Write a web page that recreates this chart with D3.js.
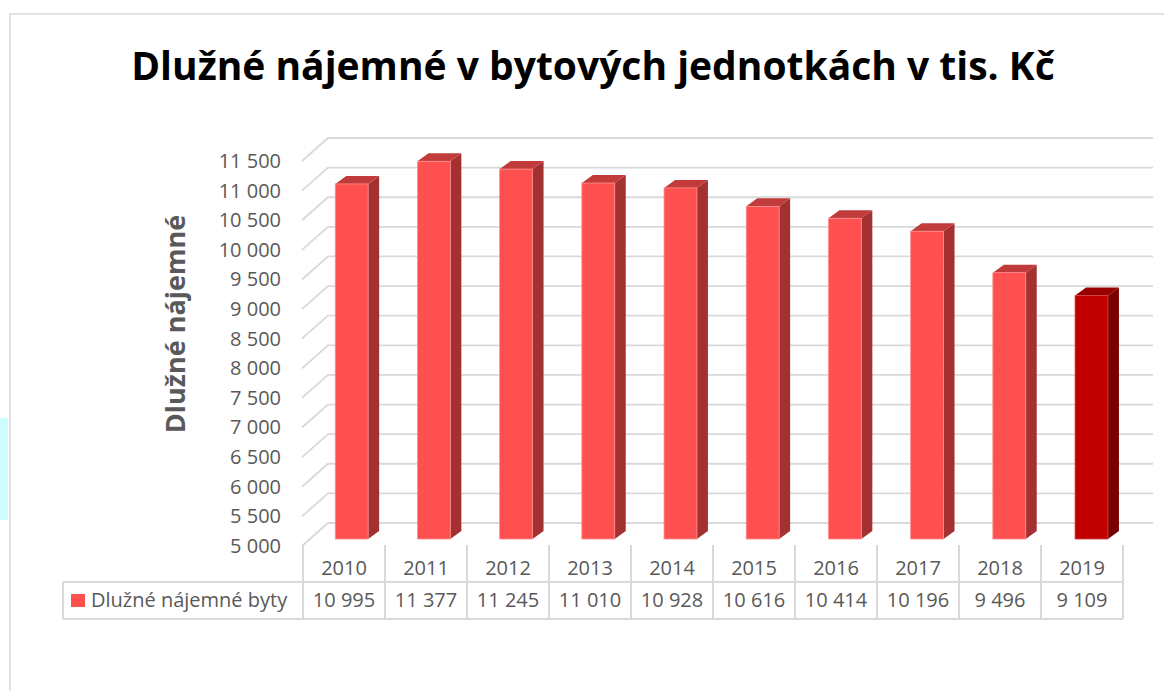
<!DOCTYPE html>
<html>
<head>
<meta charset="utf-8">
<script src="https://cdn.jsdelivr.net/npm/d3@7"></script>
<style>
  body { margin: 0; background: #fff; }
  text { font-family: "Open Sans", sans-serif; }
</style>
</head>
<body>
<div id="chart"></div>
<script>
// data
const years = ["2010", "2011", "2012", "2013", "2014", "2015", "2016", "2017", "2018", "2019"];
const debt = [10995, 11377, 11245, 11010, 10928, 10616, 10414, 10196, 9496, 9109];
const seriesName = "Dlužné nájemné byty";
const highlightYear = "2019";
const yTicks = [5000, 5500, 6000, 6500, 7000, 7500, 8000, 8500, 9000, 9500, 10000, 10500, 11000, 11500];
const chartTitle = "Dlužné nájemné v bytových jednotkách v tis. Kč";
const yTitle = "Dlužné nájemné";

const width = 1164, height = 691;
const gridColor = "#d9d9d9";
const textColor = "#595959";

// depth of the 3d walls and of the bars
const wall = {dx: 26, dy: -23};
const barDepth = {dx: 11, dy: -8};
const barShift = -7;   // bars sit a bit behind the front edge of the floor

const czech = d3.formatLocale({decimal: ",", thousands: "\u00a0", grouping: [3], currency: ["", " Kč"]});
const fmt = czech.format(",");

const data = years.map((y, i) => ({year: y, value: debt[i]}));

const svg = d3.select("#chart")
  .append("svg")
  .attr("width", width)
  .attr("height", height);

// little cyan strip on the left edge + chart frame
svg.append("rect")
  .attr("x", 0).attr("y", 418)
  .attr("width", 8).attr("height", 102)
  .attr("fill", "#ccfdfd");
svg.append("path")
  .attr("d", `M10,${height} V14 H${width}`)
  .attr("fill", "none")
  .attr("stroke", gridColor)
  .attr("stroke-width", 1.5);

// title
svg.append("text")
  .attr("x", 593)
  .attr("y", 80)
  .attr("text-anchor", "middle")
  .style("font-size", "39px")
  .style("font-weight", 700)
  .attr("fill", "#000")
  .text(chartTitle);

// y scale on the front edge of the floor
const y = d3.scaleLinear()
  .domain([5000, 11500])
  .range([546, 161]);

// back wall gridlines + side wall diagonals
const grid = svg.append("g");
grid.selectAll("path")
  .data(yTicks)
  .join("path")
    .attr("d", d => `M302,${y(d)} L${302 + wall.dx},${y(d) + wall.dy} H1153`)
    .attr("fill", "none")
    .attr("stroke", gridColor)
    .attr("stroke-width", 1.8);

// y axis labels
svg.append("g")
  .attr("transform", "translate(281,0)")
  .call(d3.axisLeft(y).tickValues(yTicks).tickSize(0).tickPadding(0).tickFormat(fmt))
  .call(g => g.select(".domain").remove())
  .call(g => g.selectAll("text")
    .attr("fill", textColor)
    .style("font-size", "20px")
    .style("font-family", "'Open Sans', sans-serif"));

// y title
svg.append("text")
  .attr("transform", "translate(185,324) rotate(-90)")
  .attr("text-anchor", "middle")
  .style("font-size", "27px")
  .style("font-weight", 700)
  .attr("fill", textColor)
  .text(yTitle);

// x scale for the table columns
const xCol = d3.scaleBand()
  .domain(years)
  .range([303, 1123]);

// x scale for the bars (slightly shifted because of the perspective)
const xBar = d3.scaleBand()
  .domain(years)
  .range([310.6, 1132.6]);
const bw = xBar.bandwidth() * 0.4;

const colors = {
  normal: {front: "#ff5050", side: "#a33131", top: "#c23b3b", edge: "#ff8c8c"},
  high: {front: "#c00000", side: "#7a0000", top: "#980000", edge: "#d04040"}
};

const bars = svg.append("g")
  .selectAll("g")
  .data(data)
  .join("g");

function geom(d) {
  const x0 = xBar(d.year) + (xBar.bandwidth() - bw) / 2;
  const x1 = x0 + bw;
  const yt = y(d.value) + barShift;
  const yb = y(5000) + barShift;
  return {x0, x1, yt, yb};
}
function pal(d) { return d.year === highlightYear ? colors.high : colors.normal; }

// side face
bars.append("path")
  .attr("d", d => {
    const g = geom(d);
    return `M${g.x1},${g.yt} L${g.x1 + barDepth.dx},${g.yt + barDepth.dy} L${g.x1 + barDepth.dx},${g.yb + barDepth.dy} L${g.x1},${g.yb} Z`;
  })
  .attr("fill", d => pal(d).side);

// top face
bars.append("path")
  .attr("d", d => {
    const g = geom(d);
    return `M${g.x0},${g.yt} L${g.x0 + barDepth.dx},${g.yt + barDepth.dy} L${g.x1 + barDepth.dx},${g.yt + barDepth.dy} L${g.x1},${g.yt} Z`;
  })
  .attr("fill", d => pal(d).top);

// front face
bars.append("rect")
  .attr("x", d => geom(d).x0)
  .attr("y", d => geom(d).yt)
  .attr("width", bw)
  .attr("height", d => geom(d).yb - geom(d).yt)
  .attr("fill", d => pal(d).front)
  .attr("stroke", d => pal(d).edge)
  .attr("stroke-width", 0.8);

// data table
const tTop = 545, tMid = 582, tBot = 619, tLeft = 63;
const table = svg.append("g")
  .attr("stroke", gridColor)
  .attr("stroke-width", 2)
  .attr("fill", "none");

table.selectAll("line.v")
  .data(years.map(yr => xCol(yr)).concat([xCol.range()[1]]))
  .join("line")
    .attr("class", "v")
    .attr("x1", d => d).attr("x2", d => d)
    .attr("y1", tTop).attr("y2", tBot);
table.append("line")
  .attr("x1", tLeft).attr("x2", tLeft)
  .attr("y1", tMid).attr("y2", tBot);
table.selectAll("line.h")
  .data([tMid, tBot])
  .join("line")
    .attr("class", "h")
    .attr("x1", tLeft).attr("x2", xCol.range()[1])
    .attr("y1", d => d).attr("y2", d => d);

// header row: years
svg.append("g")
  .selectAll("text")
  .data(years)
  .join("text")
    .attr("x", d => xCol(d) + xCol.bandwidth() / 2)
    .attr("y", 575)
    .attr("text-anchor", "middle")
    .attr("fill", textColor)
    .style("font-size", "20px")
    .text(d => d);

// value row
svg.append("g")
  .selectAll("text")
  .data(data)
  .join("text")
    .attr("x", d => xCol(d.year) + xCol.bandwidth() / 2)
    .attr("y", 607)
    .attr("text-anchor", "middle")
    .attr("fill", textColor)
    .style("font-size", "20px")
    .text(d => fmt(d.value));

// legend key in the table
svg.append("rect")
  .attr("x", 71).attr("y", 594)
  .attr("width", 14).attr("height", 13)
  .attr("fill", colors.normal.front);
svg.append("text")
  .attr("x", 91)
  .attr("y", 607)
  .attr("fill", textColor)
  .style("font-size", "20px")
  .text(seriesName);
</script>
</body>
</html>
